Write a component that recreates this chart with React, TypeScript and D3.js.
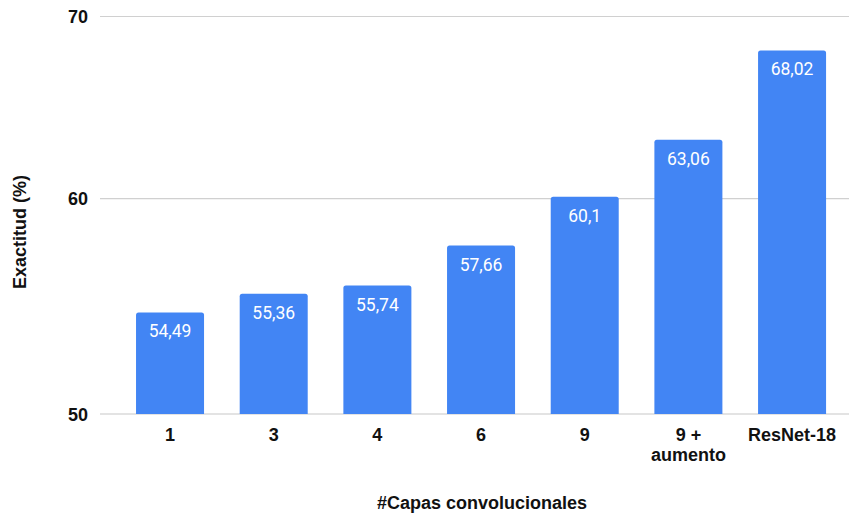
import React from "react";
import * as d3 from "d3";

const categories: string[][] = [["1"], ["3"], ["4"], ["6"], ["9"], ["9 +", "aumento"], ["ResNet-18"]];
const values: number[] = [54.49, 55.36, 55.74, 57.66, 60.1, 63.06, 68.02];
const valueLabels: string[] = ["54,49", "55,36", "55,74", "57,66", "60,1", "63,06", "68,02"];
const yTicks: number[] = [50, 60, 70];

const W = 849;
const H = 515;

export default function App() {
  const x = d3
    .scaleBand<number>()
    .domain(values.map((_, i) => i))
    .range([118.2, 843.9])
    .paddingInner(0.344)
    .paddingOuter(0.172);
  const y = d3.scaleLog().domain([50, 70]).range([414, 16.5]);
  const bw = x.bandwidth();
  const r = 2.5;

  const barPath = (x0: number, y0: number, w: number, y1: number) => {
    return `M${x0},${y1} L${x0},${y0 + r} Q${x0},${y0} ${x0 + r},${y0} L${x0 + w - r},${y0} Q${x0 + w},${y0} ${x0 + w},${y0 + r} L${x0 + w},${y1} Z`;
  };

  const font = "'Liberation Sans', Arial, sans-serif";

  return (
    <svg
      width={W}
      height={H}
      style={{ position: "absolute", left: 0, top: 0, background: "#fff" }}
    >
      {yTicks.map((t) => (
        <g key={t}>
          <line x1={100} x2={849} y1={y(t)} y2={y(t)} stroke={t === 50 ? "#c8c8c8" : "#d0d0d0"} strokeWidth={1.2} />
          <text
            x={88}
            y={y(t) + 6.5}
            textAnchor="end"
            fontFamily={font}
            fontWeight="bold"
            fontSize={18}
            fill="#111"
          >
            {t}
          </text>
        </g>
      ))}
      {values.map((v, i) => {
        const x0 = x(i)!;
        const y0 = y(v);
        return (
          <g key={i}>
            <path d={barPath(x0, y0, bw, y(50))} fill="#4285F4" />
            <text
              x={x0 + bw / 2}
              y={y0 + 25}
              textAnchor="middle"
              fontFamily="Roboto, sans-serif"
              fontSize={17.5}
              fill="#fff"
            >
              {valueLabels[i]}
            </text>
          </g>
        );
      })}
      {categories.map((lines, i) => (
        <text
          key={i}
          x={x(i)! + bw / 2}
          y={441}
          textAnchor="middle"
          fontFamily={font}
          fontWeight="bold"
          fontSize={18}
          fill="#111"
        >
          {lines.map((l, j) => (
            <tspan key={j} x={x(i)! + bw / 2} dy={j === 0 ? 0 : 19.5}>
              {l}
            </tspan>
          ))}
        </text>
      ))}
      <text
        x={482}
        y={509}
        textAnchor="middle"
        fontFamily={font}
        fontWeight="bold"
        fontSize={18}
        fill="#111"
      >
        #Capas convolucionales
      </text>
      <text
        transform={`translate(26,232) rotate(-90)`}
        textAnchor="middle"
        fontFamily={font}
        fontWeight="bold"
        fontSize={18}
        fill="#111"
      >
        Exactitud (%)
      </text>
    </svg>
  );
}
